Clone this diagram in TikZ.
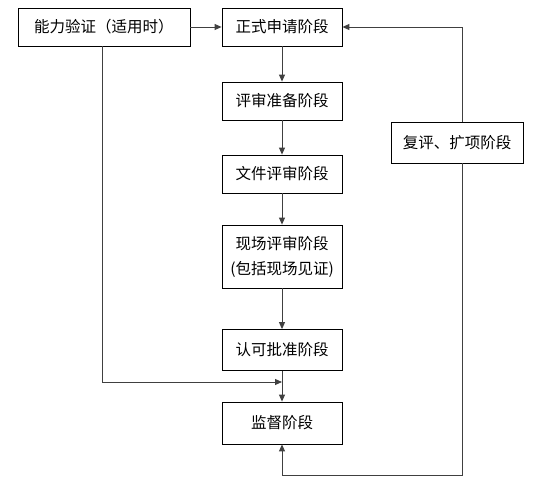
\documentclass[tikz,border=0pt]{standalone}
\usepackage{fontspec}
\setmainfont{Noto Sans CJK SC}
\usetikzlibrary{arrows.meta}
\begin{document}
\begin{tikzpicture}[x=1pt,y=-1pt,
  stagebox/.style={draw=black,line width=0.8pt,minimum width=120pt,minimum height=38pt,inner sep=2pt,font=\fontsize{15.5}{18}\selectfont},
  link/.style={draw=black!75,line width=0.9pt,-{Triangle[length=7pt,width=6pt]}}]
\useasboundingbox (0,0) rectangle (555,495);
\node[stagebox,minimum width=172pt] (a) at (104,27) {能力验证（适用时）};
\node[stagebox] (b) at (282,27) {正式申请阶段};
\node[stagebox] (c) at (282,101) {评审准备阶段};
\node[stagebox] (d) at (282,174) {文件评审阶段};
\node[stagebox,minimum height=63pt,align=center,font=\fontsize{15.5}{25}\selectfont] (e) at (282,256.5) {现场评审阶段\\(包括现场见证)};
\node[stagebox,minimum height=41pt] (f) at (282,350) {认可批准阶段};
\node[stagebox,minimum height=42pt] (g) at (282,423) {监督阶段};
\node[stagebox,minimum width=132pt,minimum height=41pt] (h) at (457,142.5) {复评、扩项阶段};
\coordinate (ja) at (102,382);
\coordinate (jb) at (282,382);
\coordinate (ga) at (282,475);
\coordinate (gb) at (462,475);
\coordinate (hs) at (462,163);
\coordinate (hn) at (462,122);
\coordinate (bt) at (462,27);
\draw[link] (a) -- (b);
\draw[link] (b) -- (c);
\draw[link] (c) -- (d);
\draw[link] (d) -- (e);
\draw[link] (e) -- (f);
\draw[link] (f) -- (g);
\draw[link] (a.south -| ja) -- (ja) -- (jb);
\draw[link] (hs) -- (gb) -- (ga) -- (g.south);
\draw[link] (hn) -- (bt) -- (b.east);
\end{tikzpicture}
\end{document}
